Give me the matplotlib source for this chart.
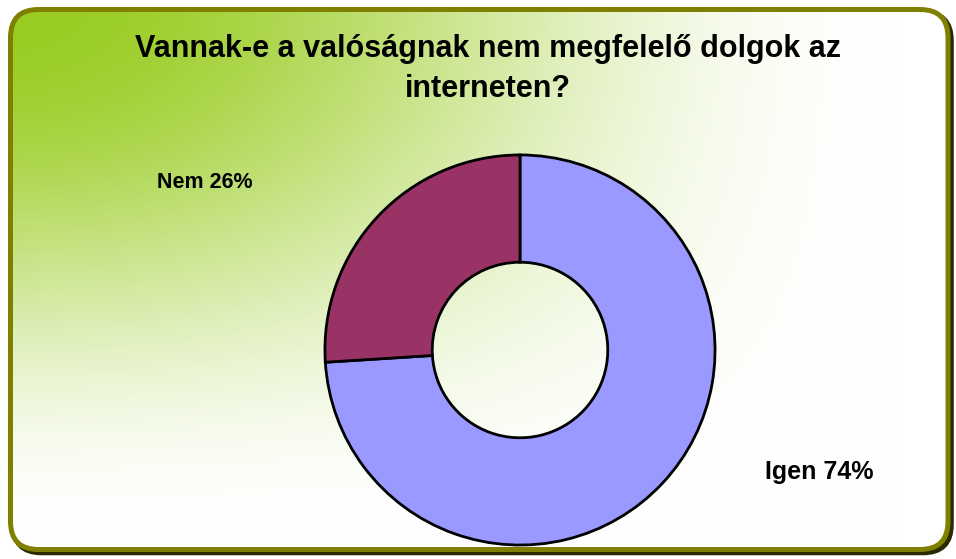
import numpy as np
import matplotlib
matplotlib.use("Agg")
import matplotlib.pyplot as plt
from matplotlib.patches import FancyBboxPatch

plt.rcParams['font.family'] = ['Liberation Sans', 'DejaVu Sans']

title_lines = ["Vannak-e a valóságnak nem megfelelő dolgok az", "interneten?"]
categories = ["Igen", "Nem"]
values = [74, 26]
colors = ["#9999ff", "#993366"]

W, H = 956, 559
fig = plt.figure(figsize=(W / 100, H / 100), dpi=100)
fig.patch.set_facecolor("white")

bg = fig.add_axes([0, 0, 1, 1])
bg.set_xlim(0, W)
bg.set_ylim(H, 0)
bg.axis("off")

# gradient background (green top-left fading to white)
yy, xx = np.mgrid[0:H, 0:W].astype(float)
gx = 0.5 * (1 + np.cos(np.pi * np.clip(xx / 900.0, 0, 1)))
gy = 0.5 * (1 + np.cos(np.pi * np.clip(yy / 540.0, 0, 1)))
g = gx * gy
c0 = np.array([152, 204, 32]) / 255.0
c1 = np.array([255, 255, 255]) / 255.0
img = c0[None, None, :] * g[..., None] + c1[None, None, :] * (1 - g[..., None])

rect = (10.5, 9.5, 937.5, 540)
shadow = FancyBboxPatch((rect[0] + 3, rect[1] + 3), rect[2], rect[3],
                        boxstyle="round,pad=0,rounding_size=28",
                        facecolor="none", edgecolor="#2a2a00", linewidth=4, zorder=1)
bg.add_patch(shadow)
im = bg.imshow(img, extent=(0, W, H, 0), zorder=2, interpolation="bilinear")
clip = FancyBboxPatch(rect[:2], rect[2], rect[3], boxstyle="round,pad=0,rounding_size=28",
                      facecolor="none", edgecolor="none", transform=bg.transData)
bg.add_patch(clip)
im.set_clip_path(clip)
box = FancyBboxPatch(rect[:2], rect[2], rect[3], boxstyle="round,pad=0,rounding_size=28",
                     facecolor="none", edgecolor="#808000", linewidth=3.6, zorder=3)
bg.add_patch(box)

bg.text(488, 57, title_lines[0], ha="center", va="baseline", fontsize=22,
        fontweight="bold", zorder=5)
bg.text(488, 97, title_lines[1], ha="center", va="baseline", fontsize=22,
        fontweight="bold", zorder=5)

# donut
cx, cy, r = 520, 350, 197
ax = fig.add_axes([(cx - r) / W, (H - cy - r) / H, 2 * r / W, 2 * r / H])
ax.pie(values, colors=colors, startangle=90, counterclock=False, radius=1.0,
       wedgeprops=dict(width=0.55, edgecolor="black", linewidth=2.0))
ax.set_xlim(-1.01, 1.01)
ax.set_ylim(-1.01, 1.01)
ax.set_aspect("equal")
ax.axis("off")

bg.text(204.5, 188, f"{categories[1]} {values[1]}%", ha="center", va="baseline",
        fontsize=15.5, fontweight="bold", zorder=5)
bg.text(819.5, 479, f"{categories[0]} {values[0]}%", ha="center", va="baseline",
        fontsize=18, fontweight="bold", zorder=5)

fig.savefig("out.png", dpi=100)
